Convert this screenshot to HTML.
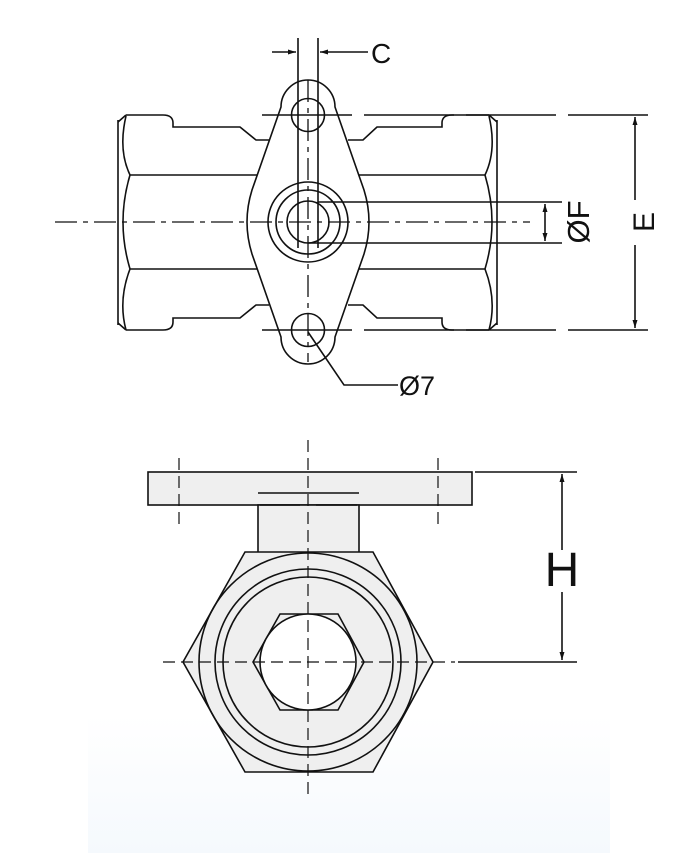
<!DOCTYPE html>
<html><head><meta charset="utf-8"><style>
html,body{margin:0;padding:0;background:#fff;width:700px;height:853px;overflow:hidden}
svg{display:block}
text{font-family:"Liberation Sans",Arial,sans-serif;fill:#111}
</style></head><body>
<svg width="700" height="853" viewBox="0 0 700 853" xmlns="http://www.w3.org/2000/svg">
<defs>
<linearGradient id="bg" x1="0" y1="0" x2="0" y2="1"><stop offset="0" stop-color="#fff"/><stop offset="1" stop-color="#f5f9fd"/></linearGradient>
<marker id="ar" markerWidth="8" markerHeight="6" refX="8" refY="3" orient="auto" markerUnits="userSpaceOnUse"><path d="M0,0.5 L8,3 L0,5.5z" fill="#111"/></marker>
</defs>
<rect x="88" y="715" width="522" height="138" fill="url(#bg)"/>
<g fill="none" stroke="#111" stroke-width="1.6">
<path d="M126,115 H163 Q173,115 173,123 V127 H240 L256,140 H269"/>
<path d="M348,140 H363 L377,127 H442 V123 Q442,115 452,115 H489"/>
<path d="M126,330 H163 Q173,330 173,322 V318 H240 L256,305 H269"/>
<path d="M348,305 H363 L377,318 H442 V322 Q442,330 452,330 H489"/>
<line x1="118" y1="120" x2="118" y2="325"/>
<line x1="497" y1="120" x2="497" y2="325"/>
<path d="M126,115 L118,122 M126,330 L118,323 M489,115 L497,122 M489,330 L497,323"/>
<path d="M126,116 Q118,150 130,175 Q116,222 130,269 Q118,300 126,330"/>
<path d="M489,116 Q497,150 485,175 Q499,222 485,269 Q497,300 489,330"/>
<line x1="130" y1="175" x2="258" y2="175"/><line x1="357" y1="175" x2="485" y2="175"/>
<line x1="130" y1="269" x2="258" y2="269"/><line x1="357" y1="269" x2="485" y2="269"/>
<path d="M281,107 A27,27 0 0 1 335,107 L364,190 Q374,222 364,254 L335,337 A27,27 0 0 1 281,337 L252,254 Q242,222 252,190 Z" fill="#fff"/>
<circle cx="308" cy="115" r="16.5"/>
<circle cx="308" cy="330" r="16.5"/>
<circle cx="308" cy="222" r="40"/>
<circle cx="308" cy="222" r="32"/>
<circle cx="308" cy="222" r="21"/>
<line x1="298" y1="38" x2="298" y2="248"/>
<line x1="318" y1="38" x2="318" y2="248"/>
<line x1="318" y1="202" x2="562" y2="202"/>
<line x1="308" y1="243" x2="562" y2="243"/>
<line x1="545" y1="222" x2="545" y2="204" marker-end="url(#ar)"/>
<line x1="545" y1="222" x2="545" y2="241" marker-end="url(#ar)"/>
<line x1="262" y1="115" x2="648" y2="115" stroke-dasharray="90 12"/>
<line x1="262" y1="330" x2="648" y2="330" stroke-dasharray="90 12"/>
<line x1="635" y1="200" x2="635" y2="117" marker-end="url(#ar)"/>
<line x1="635" y1="245" x2="635" y2="328" marker-end="url(#ar)"/>
<line x1="272" y1="52" x2="296" y2="52" marker-end="url(#ar)"/>
<line x1="368" y1="52" x2="320" y2="52" marker-end="url(#ar)"/>
<path d="M308,332 L344,385 H398"/>
</g>
<g fill="none" stroke="#111" stroke-width="1.3" stroke-dasharray="22 6 5 6">
<line x1="55" y1="222" x2="530" y2="222"/>
<line x1="308" y1="80" x2="308" y2="362"/>
</g>
<text x="371" y="63" font-size="28">C</text>
<text x="399" y="395" font-size="27">Ø7</text>
<text transform="translate(589,222) rotate(-90)" text-anchor="middle" font-size="31">ØF</text>
<text transform="translate(654,222) rotate(-90)" text-anchor="middle" font-size="30">E</text>

<g stroke="#111" stroke-width="1.6" fill="#efefef">
<rect x="148" y="472" width="324" height="33"/>
<rect x="258" y="505" width="101" height="48"/>
<polygon points="245,552 373,552 433,662 373,772 245,772 183,662"/>
<circle cx="308" cy="662" r="109" fill="none"/>
<circle cx="308" cy="662" r="93" fill="none"/>
<circle cx="308" cy="662" r="85" fill="none"/>
<polygon points="280,614 338,614 364,662 338,710 280,710 253,662"/>
<circle cx="308" cy="662" r="48" fill="#fff"/>
</g>
<g stroke="#111" stroke-width="1.6" fill="none">
<line x1="258" y1="493" x2="359" y2="493"/>
<line x1="260" y1="505" x2="300" y2="505"/>
<line x1="316" y1="505" x2="357" y2="505"/>
<line x1="475" y1="472" x2="577" y2="472"/>
<line x1="458" y1="662" x2="577" y2="662"/>
<line x1="562" y1="550" x2="562" y2="474" marker-end="url(#ar)"/>
<line x1="562" y1="592" x2="562" y2="660" marker-end="url(#ar)"/>
</g>
<g stroke="#111" stroke-width="1.2" fill="none" stroke-dasharray="12 6">
<line x1="308" y1="440" x2="308" y2="797"/>
<line x1="179" y1="458" x2="179" y2="530"/>
<line x1="438" y1="458" x2="438" y2="530"/>
<line x1="163" y1="662" x2="455" y2="662"/>
</g>
<text x="562" y="586" text-anchor="middle" font-size="48">H</text>
</svg>
</body></html>
